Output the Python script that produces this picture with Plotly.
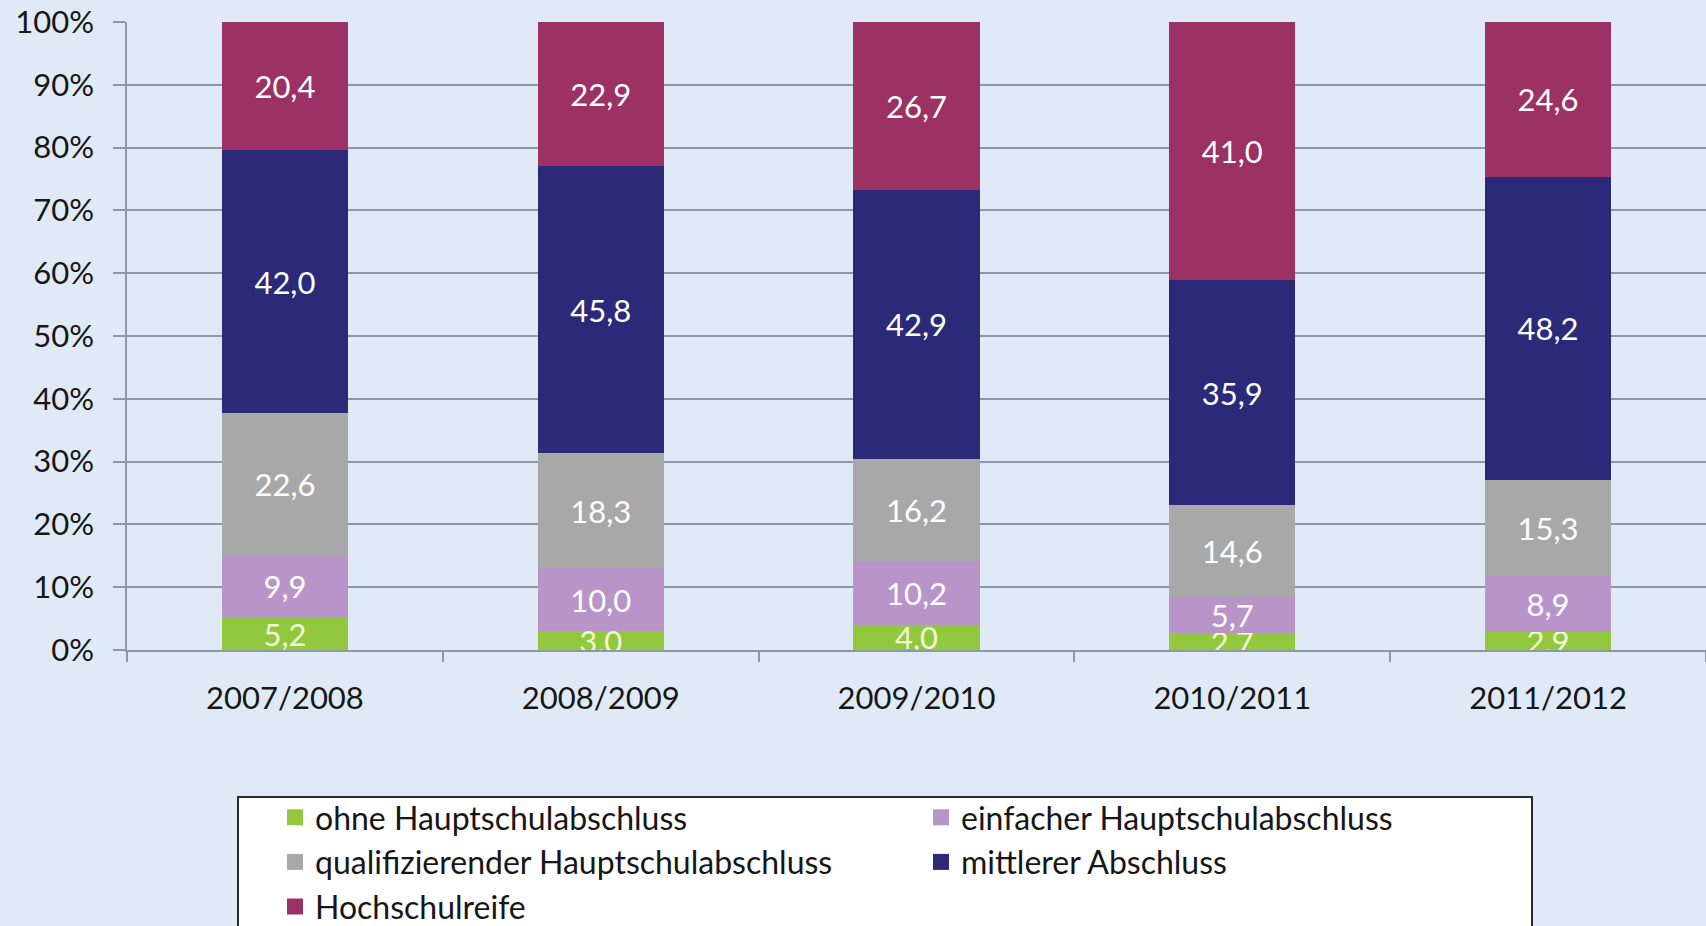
import plotly.graph_objects as go

categories = ["2007/2008", "2008/2009", "2009/2010", "2010/2011", "2011/2012"]
ohne = [5.2, 3.0, 4.0, 2.7, 2.9]
einfach = [9.9, 10.0, 10.2, 5.7, 8.9]
qualifiziert = [22.6, 18.3, 16.2, 14.6, 15.3]
mittlerer = [42.0, 45.8, 42.9, 35.9, 48.2]
hochschul = [20.4, 22.9, 26.7, 41.0, 24.6]

series_names = ["ohne Hauptschulabschluss", "einfacher Hauptschulabschluss",
                "qualifizierender Hauptschulabschluss", "mittlerer Abschluss",
                "Hochschulreife"]
series_values = [ohne, einfach, qualifiziert, mittlerer, hochschul]
colors = ["#92C83E", "#B994C8", "#A8A8A8", "#2A2A78", "#9C3163"]
text_colors = ["#F2F8D8", "#FFFFFF", "#FFFFFF", "#FFFFFF", "#FFFFFF"]

FONT = "Lato"
W, H = 1706, 926
L, R, T, B = 127, 0, 22, 276

fig = go.Figure()
for name, vals, col, tcol in zip(series_names, series_values, colors, text_colors):
    fig.add_trace(go.Bar(
        x=categories, y=vals, name=name, showlegend=False,
        marker=dict(color=col, line=dict(width=0)),
        text=[f"{v:.1f}".replace(".", ",") for v in vals],
        textposition="inside", insidetextanchor="middle",
        textfont=dict(family=FONT, size=31, color=tcol),
        textangle=0,
        hoverinfo="skip",
    ))
# legend proxies (larger square symbols)
for name, col in zip(series_names, colors):
    fig.add_trace(go.Scatter(
        x=[None], y=[None], name=name, mode="markers",
        marker=dict(symbol="square", size=18, color=col),
        showlegend=True, hoverinfo="skip",
    ))

plot_w = W - L - R
plot_h = H - T - B
def px_to_paper_x(px):
    return (px - L) / plot_w
def px_to_paper_y(py):
    return (H - B - py) / plot_h

fig.add_shape(
    type="rect", xref="paper", yref="paper",
    x0=px_to_paper_x(238), x1=px_to_paper_x(1532),
    y0=px_to_paper_y(797), y1=px_to_paper_y(960),
    fillcolor="#FFFFFF", line=dict(color="#2B2B2B", width=2), layer="above",
)

fig.update_layout(
    width=W, height=H,
    barmode="stack", barnorm="percent", bargap=0.6,
    paper_bgcolor="#DFEAF6", plot_bgcolor="#DFEAF6",
    margin=dict(l=L, r=R, t=T, b=B),
    font=dict(family=FONT, size=31, color="#161616"),
    uniformtext=dict(minsize=31, mode="show"),
    showlegend=True,
    legend=dict(
        orientation="h", traceorder="normal",
        xref="container", yref="container",
        x=275/W, y=1-790/H, xanchor="left", yanchor="top",
        bgcolor="rgba(0,0,0,0)", borderwidth=0,
        entrywidth=601, entrywidthmode="pixels",
        itemsizing="trace",
        font=dict(family=FONT, size=32, color="#161616"),
        itemclick=False, itemdoubleclick=False,
    ),
    xaxis=dict(
        type="category", showgrid=False,
        showline=True, linecolor="#8C98A4", linewidth=1.5,
        ticks="outside", tickson="boundaries", ticklen=10, tickcolor="#8C98A4", tickwidth=1.5,
        tickfont=dict(family=FONT, size=31, color="#161616"),
        ticklabelstandoff=20,
    ),
    yaxis=dict(
        range=[0, 100], dtick=10, ticksuffix="%",
        showgrid=True, gridcolor="#8C98A4", gridwidth=1.5,
        showline=True, linecolor="#8C98A4", linewidth=1.5,
        ticks="outside", ticklen=12, tickcolor="#8C98A4", tickwidth=1.5,
        tickfont=dict(family=FONT, size=31, color="#161616"),
        ticklabelstandoff=13, zeroline=False,
    ),
)

fig.write_html("out.html", config={"displayModeBar": False},
               post_script="document.body.style.margin='0';document.body.style.overflow='hidden';")
